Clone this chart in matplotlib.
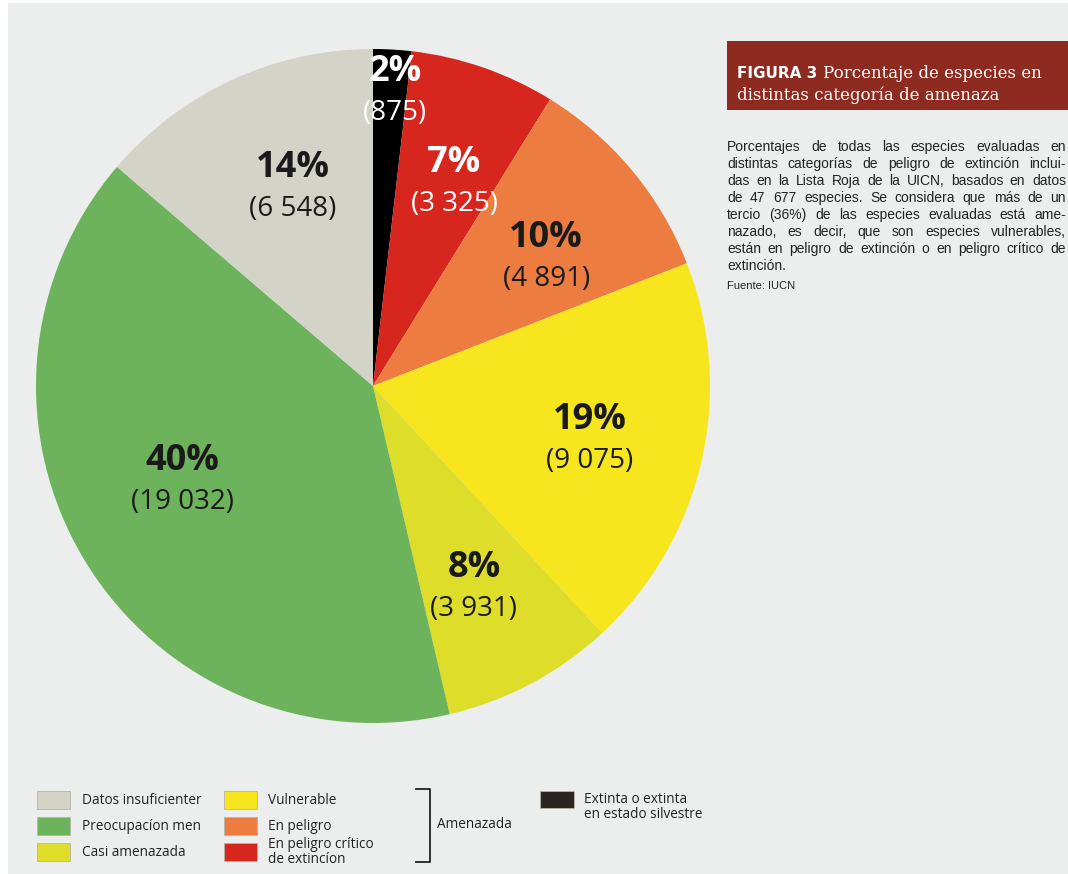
import matplotlib
matplotlib.use('Agg')
import matplotlib.pyplot as plt
import numpy as np
from matplotlib.patches import Rectangle
from matplotlib.lines import Line2D

# data
categories = ['Extinta o extinta en estado silvestre', 'En peligro crítico de extinción',
              'En peligro', 'Vulnerable', 'Casi amenazada', 'Preocupacíon menor',
              'Datos insuficientes']
values = [875, 3325, 4891, 9075, 3931, 19032, 6548]
colors = ['#000000', '#d7261e', '#ec7c3f', '#f7e51e', '#dedd2a', '#6db35b', '#d4d3c8']
label_colors = ['white', 'white', '#1a1a1a', '#1a1a1a', '#1a1a1a', '#1a1a1a', '#1a1a1a']
label_dist = [0.88, 0.66, 0.65, 0.66, 0.67, 0.63, 0.64]
# small hand nudges of the labels, in pixels (right, down)
label_nudge = [(5, 2), (8, 7), (5, 12), (0, 4), (-5, 3), (-9, -15), (10, -2)]

title_a = 'FIGURA 3'
title_b = ['Porcentaje de especies en', 'distintas categoría de amenaza']
body = ['Porcentajes de todas las especies evaluadas en',
        'distintas categorías de peligro de extinción inclui-',
        'das en la Lista Roja de la UICN, basados en datos',
        'de 47 677 especies. Se considera que más de un',
        'tercio (36%) de las especies evaluadas está ame-',
        'nazado, es decir, que son especies vulnerables,',
        'están en peligro de extinción o en peligro crítico de',
        'extinción.']
source = 'Fuente: IUCN'

legend_left = [('Datos insuficienter', colors[6]), ('Preocupacíon men', colors[5]),
               ('Casi amenazada', colors[4])]
legend_mid = [('Vulnerable', colors[3]), ('En peligro', colors[2]),
              ('En peligro crítico\nde extincíon', colors[1])]

W, H = 1068, 874
fig = plt.figure(figsize=(W / 100, H / 100), dpi=100)
fig.patch.set_facecolor('white')
fig.patches.append(Rectangle((8 / W, 0), 1, 1 - 3 / H, transform=fig.transFigure,
                             facecolor='#ebeeed', edgecolor='none', zorder=-10))

def px(x, y):
    return x / W, 1 - y / H

# pie
cx, cy, r = 373, 386, 337
ax = fig.add_axes([(cx - r) / W, (H - cy - r) / H, 2 * r / W, 2 * r / H])
wedges, _ = ax.pie(values, colors=colors, startangle=90, counterclock=False,
                   radius=1, wedgeprops=dict(linewidth=0))
ax.set_xlim(-1, 1)
ax.set_ylim(-1, 1)
ax.axis('off')

total = sum(values)
for w, v, c, d, (nx, ny) in zip(wedges, values, label_colors, label_dist, label_nudge):
    mid = np.deg2rad((w.theta1 + w.theta2) / 2)
    x, y = d * np.cos(mid), d * np.sin(mid)
    pct = '%d%%' % round(v / total * 100)
    num = '(' + format(v, ',').replace(',', ' ') + ')'
    ax.annotate(pct, (x, y), xytext=(nx * 0.72, (-ny + 20) * 0.72),
                textcoords='offset points', ha='center', va='center',
                fontsize=26, fontweight='bold', color=c, family='Open Sans')
    ax.annotate(num, (x, y), xytext=(nx * 0.72, (-ny - 21) * 0.72),
                textcoords='offset points', ha='center', va='center',
                fontsize=20, color=c, family='Open Sans')

# title band
fig.patches.append(Rectangle(px(727, 110), (W - 727) / W, 69 / H,
                             transform=fig.transFigure, facecolor='#8e2b21',
                             edgecolor='none'))
ta = fig.text(*px(737, 78), title_a, fontsize=11, fontweight='bold',
              color='white', family='DejaVu Sans', va='baseline')
fig.canvas.draw()
rend = fig.canvas.get_renderer()
bb = ta.get_window_extent(rend)
fig.text(bb.x1 / W + 6 / W, 1 - 78 / H, title_b[0], fontsize=12,
         color='white', family='DejaVu Serif', va='baseline')
fig.text(*px(737, 100), title_b[1], fontsize=12,
         color='white', family='DejaVu Serif', va='baseline')

# justified paragraph
x0, x1 = 727, 1066
fs = 10
y = 151
for i, line in enumerate(body):
    words = line.split(' ')
    if i == len(body) - 1:
        fig.text(*px(x0, y), line, fontsize=fs, family='Liberation Sans',
                 color='#222222', va='baseline')
    else:
        ts = [fig.text(0, 0, wd, fontsize=fs, family='Liberation Sans',
                       color='#222222', va='baseline') for wd in words]
        widths = [t.get_window_extent(rend).width for t in ts]
        gap = (x1 - x0 - sum(widths)) / (len(words) - 1)
        xx = x0
        for t, wdt in zip(ts, widths):
            t.set_position(px(xx, y))
            xx += wdt + gap
    y += 17
fig.text(*px(x0, y + 2), source, fontsize=8, family='Liberation Sans',
         color='#222222', va='baseline')

# legend
leg_font = dict(fontsize=9.8, family='Open Sans', color='#222222', va='center')
rows = [800, 826, 852]
for (lab, col), yy in zip(legend_left, rows):
    fig.patches.append(Rectangle(px(37, yy + 9), 33 / W, 18 / H,
                                 transform=fig.transFigure, facecolor=col,
                                 edgecolor='#b5b5a8', linewidth=0.6))
    fig.text(*px(82, yy), lab, **leg_font)
for (lab, col), yy in zip(legend_mid, rows):
    fig.patches.append(Rectangle(px(224, yy + 9), 33 / W, 18 / H,
                                 transform=fig.transFigure, facecolor=col,
                                 edgecolor='#b5b5a8', linewidth=0.6))
    fig.text(*px(268, yy), lab, linespacing=0.95, **leg_font)

# bracket
bx = [416, 430, 430, 416]
by = [789, 789, 862, 862]
fig.add_artist(Line2D([v / W for v in bx], [1 - v / H for v in by],
                      transform=fig.transFigure, color='#222222', lw=1.3))
fig.text(*px(437, 825), 'Amenazada', **leg_font)

fig.patches.append(Rectangle(px(540, 808), 34 / W, 17 / H,
                             transform=fig.transFigure, facecolor='#2a2522',
                             edgecolor='#b5b5a8', linewidth=0.6))
fig.text(*px(584, 807), 'Extinta o extinta\nen estado silvestre',
         linespacing=0.95, **leg_font)

fig.savefig('out.png', dpi=100, facecolor=fig.get_facecolor())
